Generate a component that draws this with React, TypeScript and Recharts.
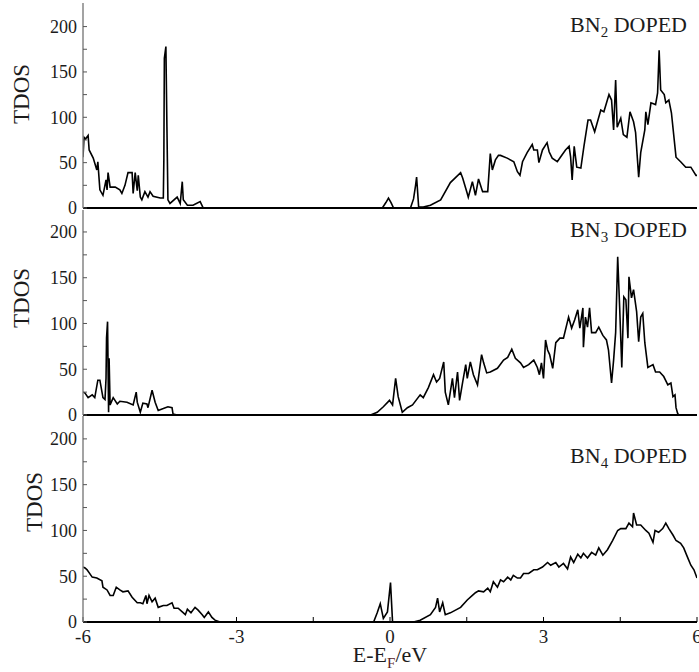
import React from 'react';
import { LineChart, Line, XAxis, YAxis } from 'recharts';

// energies (E - E_F, eV) and total DOS
const bn2Energy = [
  -6.00, -5.98, -5.95, -5.90, -5.88, -5.80, -5.73, -5.71, -5.67, -5.61,
  -5.55, -5.53, -5.51, -5.47, -5.37, -5.28, -5.24, -5.18, -5.12, -5.04,
  -5.02, -4.98, -4.94, -4.92, -4.88, -4.85, -4.79, -4.73, -4.69, -4.63,
  -4.49, -4.43, -4.42, -4.41, -4.38, -4.36, -4.34, -4.30, -4.16, -4.10,
  -4.06, -4.04, -3.96, -3.85, -3.71, -3.65, -0.15, -0.08, -0.03, 0.02,
  0.07, 0.40, 0.46, 0.50, 0.52, 0.56, 0.65, 0.79, 0.99, 1.18,
  1.38, 1.42, 1.50, 1.53, 1.61, 1.67, 1.73, 1.81, 1.91, 1.96,
  2.00, 2.06, 2.12, 2.16, 2.29, 2.42, 2.49, 2.54, 2.59, 2.68,
  2.78, 2.81, 2.88, 2.91, 2.98, 3.07, 3.11, 3.17, 3.27, 3.33,
  3.43, 3.50, 3.53, 3.56, 3.60, 3.65, 3.73, 3.79, 3.87, 3.92,
  4.00, 4.12, 4.18, 4.28, 4.33, 4.37, 4.41, 4.44, 4.51, 4.56,
  4.63, 4.69, 4.76, 4.80, 4.86, 4.90, 4.98, 5.00, 5.04, 5.10,
  5.19, 5.23, 5.26, 5.29, 5.36, 5.39, 5.45, 5.50, 5.59, 5.68,
  5.78, 5.88, 5.98, 6.00,
];
const bn2Tdos = [
  56, 78, 76, 80, 64, 55, 42, 51, 20, 14,
  31, 20, 39, 23, 23, 20, 16, 25, 39, 39,
  16, 39, 19, 36, 12, 9, 18, 12, 18, 13,
  11, 11, 53, 165, 178, 90, 9, 5, 12, 5,
  29, 9, 3, 3, 7, 0, 0, 6, 11, 6,
  0, 0, 10, 25, 34, 1, 1, 3, 9, 28,
  39, 33, 18, 12, 29, 14, 32, 18, 18, 60,
  42, 53, 58, 58, 55, 51, 40, 36, 51, 61,
  70, 64, 64, 50, 64, 72, 62, 55, 51, 56,
  64, 68, 56, 31, 68, 45, 44, 68, 97, 97,
  84, 108, 106, 125, 119, 86, 141, 89, 99, 81,
  78, 106, 95, 83, 34, 61, 86, 106, 92, 116,
  114, 127, 174, 130, 125, 116, 119, 105, 56, 51,
  45, 45, 36, 36,
];

const bn3Energy = [
  -6.00, -5.96, -5.90, -5.82, -5.77, -5.71, -5.67, -5.61, -5.57, -5.55,
  -5.54, -5.52, -5.50, -5.49, -5.47, -5.41, -5.33, -5.28, -5.14, -5.02,
  -4.96, -4.94, -4.88, -4.83, -4.75, -4.73, -4.65, -4.59, -4.53, -4.43,
  -4.34, -4.26, -4.24, -4.16, -0.38, -0.25, -0.13, -0.01, 0.05, 0.11,
  0.16, 0.24, 0.34, 0.44, 0.59, 0.65, 0.75, 0.85, 0.91, 0.97,
  1.05, 1.08, 1.14, 1.22, 1.26, 1.32, 1.36, 1.42, 1.48, 1.51,
  1.57, 1.63, 1.71, 1.79, 1.83, 1.89, 1.96, 2.10, 2.22, 2.30,
  2.38, 2.45, 2.55, 2.61, 2.71, 2.81, 2.88, 2.92, 2.96, 3.00,
  3.04, 3.08, 3.12, 3.18, 3.24, 3.32, 3.39, 3.49, 3.55, 3.61,
  3.67, 3.71, 3.77, 3.78, 3.82, 3.86, 3.90, 3.94, 4.02, 4.08,
  4.16, 4.23, 4.27, 4.33, 4.37, 4.41, 4.45, 4.49, 4.53, 4.57,
  4.61, 4.65, 4.67, 4.72, 4.76, 4.82, 4.86, 4.90, 4.94, 4.98,
  5.04, 5.14, 5.19, 5.27, 5.35, 5.43, 5.49, 5.53, 5.57, 5.59,
  5.62, 5.64, 6.00,
];
const bn3Tdos = [
  25, 24, 19, 22, 19, 38, 38, 19, 17, 40,
  84, 102, 3, 62, 11, 19, 12, 15, 14, 11,
  25, 14, 3, 13, 12, 8, 27, 14, 5, 7,
  9, 8, 1, 0, 0, 3, 9, 16, 11, 40,
  20, 3, 8, 11, 22, 19, 30, 44, 36, 40,
  58, 25, 11, 40, 19, 47, 16, 36, 55, 40,
  58, 44, 33, 66, 57, 46, 47, 51, 60, 63,
  72, 62, 57, 52, 55, 60, 52, 44, 57, 40,
  82, 71, 66, 51, 79, 84, 84, 107, 95, 104,
  115, 95, 117, 74, 107, 96, 117, 90, 90, 96,
  87, 82, 71, 35, 60, 90, 173, 115, 52, 129,
  126, 84, 151, 128, 137, 113, 80, 107, 111, 79,
  52, 55, 47, 47, 42, 33, 35, 20, 22, 8,
  2, 0, 0,
];

const bn4Energy = [
  -6.00, -5.96, -5.92, -5.82, -5.73, -5.63, -5.61, -5.53, -5.47, -5.41,
  -5.35, -5.28, -5.22, -5.12, -5.04, -4.94, -4.88, -4.83, -4.77, -4.75,
  -4.71, -4.65, -4.59, -4.53, -4.43, -4.36, -4.26, -4.22, -4.14, -4.06,
  -4.00, -3.96, -3.89, -3.81, -3.75, -3.67, -3.63, -3.55, -3.48, -3.42,
  -3.32, -0.32, -0.25, -0.19, -0.13, -0.05, 0.01, 0.05, 0.46, 0.59,
  0.79, 0.89, 0.93, 0.97, 1.03, 1.08, 1.18, 1.38, 1.51, 1.61,
  1.67, 1.73, 1.83, 1.91, 1.96, 2.02, 2.10, 2.16, 2.22, 2.30,
  2.36, 2.41, 2.49, 2.55, 2.61, 2.71, 2.81, 2.88, 2.98, 3.08,
  3.14, 3.24, 3.30, 3.39, 3.47, 3.53, 3.59, 3.67, 3.73, 3.78,
  3.86, 3.94, 4.02, 4.08, 4.16, 4.25, 4.35, 4.45, 4.51, 4.61,
  4.67, 4.74, 4.76, 4.82, 4.90, 5.00, 5.06, 5.14, 5.18, 5.25,
  5.33, 5.39, 5.45, 5.53, 5.59, 5.68, 5.74, 5.82, 5.88, 5.94,
  6.00,
];
const bn4Tdos = [
  60, 59, 57, 49, 48, 45, 38, 35, 29, 29,
  38, 35, 33, 34, 27, 21, 21, 20, 29, 20,
  29, 22, 26, 16, 18, 18, 21, 15, 15, 11,
  8, 14, 10, 16, 13, 8, 5, 11, 5, 2,
  0, 0, 10, 20, 4, 11, 43, 0, 0, 2,
  8, 16, 26, 11, 21, 8, 10, 16, 24, 29,
  32, 34, 33, 37, 33, 44, 38, 46, 44, 49,
  46, 51, 48, 48, 53, 53, 57, 57, 60, 65,
  62, 65, 60, 64, 58, 71, 65, 74, 70, 75,
  70, 76, 73, 81, 73, 79, 89, 100, 102, 102,
  108, 104, 119, 106, 106, 100, 97, 87, 100, 98,
  102, 108, 102, 95, 89, 86, 81, 70, 62, 57,
  48,
];

const xTicks = [-6, -4.5, -3, -1.5, 0, 1.5, 3, 4.5, 6];
const yTicks = [0, 25, 50, 75, 100, 125, 150, 175, 200];

const serif = '"Liberation Serif", "DejaVu Serif", serif';
const ink = '#1c1c1c';
const frame = '#858585';

function toRows(energy: number[], tdos: number[]) {
  return energy.map((e, i) => ({ e, tdos: tdos[i] }));
}

interface PanelProps {
  top: number;
  height: number;
  plotHeight: number;
  padBottom: number;
  rows: { e: number; tdos: number }[];
  yMax: number;
  sub: string;
  titleY: number;
  labelX: number;
  labelY: number;
  bottom?: boolean;
  topBorder?: boolean;
}

const Panel = ({ top, height, plotHeight, padBottom, rows, yMax, sub, titleY, labelX, labelY, bottom, topBorder }: PanelProps) => (
  <div style={{ position: 'absolute', left: 0, top }}>
    <LineChart width={699} height={height} data={rows} margin={{ top: 3, right: 2, bottom: padBottom, left: 0 }}>
      <XAxis
        dataKey="e"
        type="number"
        domain={[-6, 6]}
        ticks={xTicks}
        interval={0}
        allowDataOverflow
        height={height - 3 - plotHeight - padBottom}
        tickSize={-5}
        tickMargin={13}
        axisLine={{ stroke: '#000', strokeWidth: 2 }}
        tickLine={{ stroke: '#000', strokeWidth: 1 }}
        tick={bottom ? { fontSize: 19, fill: ink, fontFamily: serif } : false}
        tickFormatter={(v: number) => (v % 3 === 0 ? String(v) : '')}
      />
      {topBorder && (
        <XAxis
          xAxisId="top"
          orientation="top"
          type="number"
          domain={[-6, 6]}
          height={0}
          tick={false}
          tickLine={false}
          axisLine={{ stroke: frame, strokeWidth: 1.5 }}
        />
      )}
      <YAxis
        type="number"
        domain={[0, yMax]}
        ticks={yTicks}
        interval={0}
        allowDataOverflow
        width={83}
        tickSize={-4}
        tickMargin={10}
        axisLine={{ stroke: frame, strokeWidth: 1.5 }}
        tickLine={{ stroke: '#555', strokeWidth: 1 }}
        tick={{ fontSize: 18, fill: ink, fontFamily: serif }}
        tickFormatter={(v: number) => (v % 50 === 0 ? String(v) : '')}
      />
      <YAxis
        yAxisId="right"
        orientation="right"
        type="number"
        domain={[0, yMax]}
        width={0}
        tick={false}
        tickLine={false}
        axisLine={{ stroke: frame, strokeWidth: 1.5 }}
      />
      <Line
        type="linear"
        dataKey="tdos"
        stroke="#000"
        strokeWidth={1.6}
        dot={false}
        activeDot={false}
        isAnimationActive={false}
      />
      <text x={687} y={titleY} textAnchor="end" fontSize={22} fontFamily={serif} fill={ink}>
        BN
        <tspan dy={5} fontSize={15}>{sub}</tspan>
        <tspan dy={-5}> DOPED</tspan>
      </text>
      <text
        x={labelX}
        y={labelY}
        transform={`rotate(-90, ${labelX}, ${labelY})`}
        textAnchor="middle"
        dominantBaseline="central"
        fontSize={23}
        fontFamily={serif}
        fill={ink}
      >
        TDOS
      </text>
      {bottom && (
        <text x={390} y={249} textAnchor="middle" fontSize={22} fontFamily={serif} fill={ink}>
          E-E
          <tspan dy={6} fontSize={15} fill="#5a2626">F</tspan>
          <tspan dy={-6}>/eV</tspan>
        </text>
      )}
    </LineChart>
  </div>
);

export default function App() {
  return (
    <div style={{ position: 'absolute', left: 0, top: 0, width: 699, height: 672, background: '#fff' }}>
      <Panel top={0} height={220} plotHeight={205} padBottom={10} rows={toRows(bn2Energy, bn2Tdos)} yMax={226} sub="2"
        titleY={32} labelX={21} labelY={94} topBorder />
      <Panel top={207} height={220} plotHeight={205} padBottom={10} rows={toRows(bn3Energy, bn3Tdos)} yMax={224} sub="3"
        titleY={30} labelX={21} labelY={91} />
      <Panel top={413} height={259} plotHeight={206} padBottom={0} rows={toRows(bn4Energy, bn4Tdos)} yMax={225} sub="4"
        titleY={50} labelX={34} labelY={89} bottom />
    </div>
  );
}
